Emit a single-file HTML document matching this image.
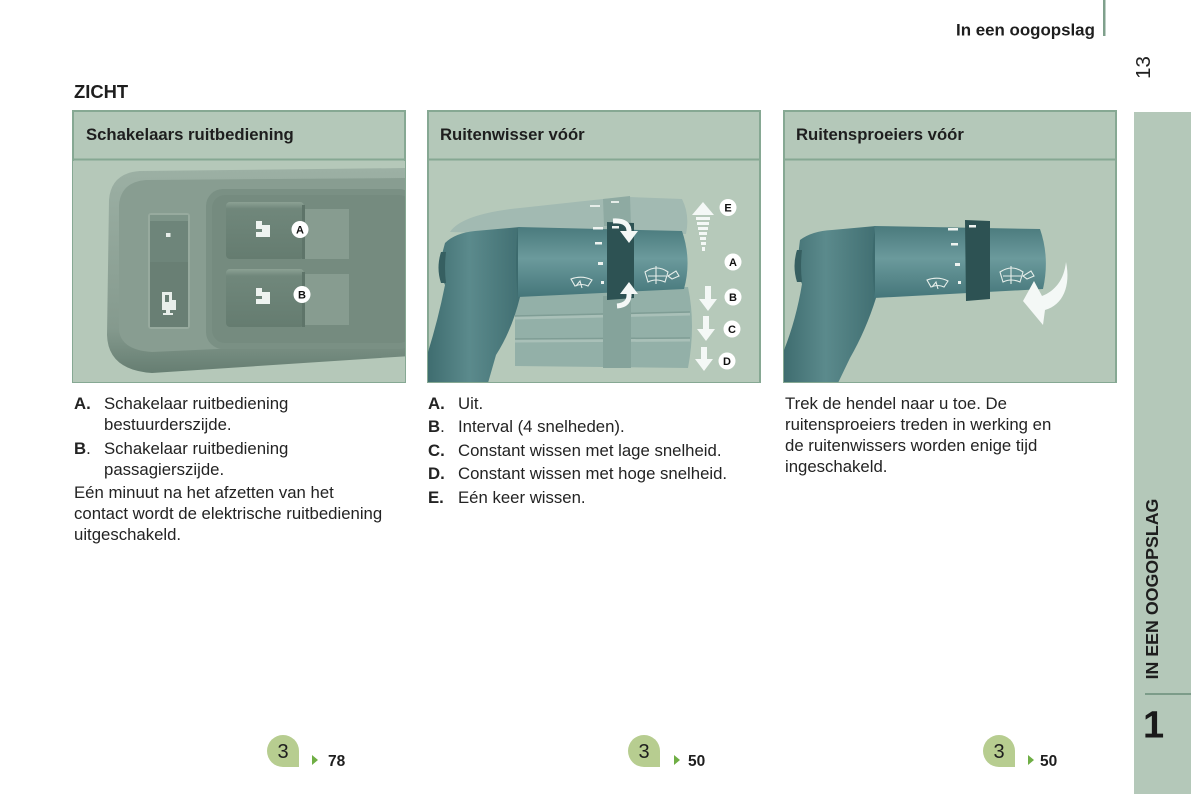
<!DOCTYPE html>
<html><head><meta charset="utf-8">
<style>
html,body{margin:0;padding:0;background:#fff;}
body{width:1191px;height:794px;position:relative;overflow:hidden;font-family:"Liberation Sans",Arial,sans-serif;}
svg{position:absolute;left:0;top:0;}
</style></head>
<body>
<svg width="1191" height="794" viewBox="0 0 1191 794" xmlns="http://www.w3.org/2000/svg" font-family="Liberation Sans, Arial, sans-serif">
<defs>
 <clipPath id="c1"><rect x="73" y="160" width="332" height="222"/></clipPath>
 <clipPath id="c2"><rect x="428" y="160" width="332" height="222"/></clipPath>
 <clipPath id="c3"><rect x="784" y="160" width="332" height="222"/></clipPath>
 <linearGradient id="cyl" x1="0" y1="0" x2="0" y2="1">
  <stop offset="0" stop-color="#4a7a7d"/>
  <stop offset="0.45" stop-color="#6b9a9c"/>
  <stop offset="1" stop-color="#45767a"/>
 </linearGradient>
 <linearGradient id="base" x1="0" y1="0" x2="1" y2="0">
  <stop offset="0" stop-color="#3f6d70"/>
  <stop offset="0.45" stop-color="#5b8a8c"/>
  <stop offset="1" stop-color="#416f72"/>
 </linearGradient>
 <linearGradient id="con" x1="0" y1="0" x2="0" y2="1">
  <stop offset="0" stop-color="#9cb0a4"/>
  <stop offset="0.78" stop-color="#859a8e"/>
  <stop offset="1" stop-color="#667e72"/>
 </linearGradient>
 <linearGradient id="sw" x1="0" y1="0" x2="0" y2="1">
  <stop offset="0" stop-color="#8ca194"/>
  <stop offset="0.12" stop-color="#70877b"/>
  <stop offset="1" stop-color="#657c70"/>
 </linearGradient>
</defs>

<!-- top header -->
<rect x="1103" y="0" width="2.5" height="36" fill="#7fa08c"/>
<text x="956" y="35.5" font-size="16.9" font-weight="bold" fill="#1e1e1e">In een oogopslag</text>
<text transform="translate(1150,67.5) rotate(-90)" text-anchor="middle" font-size="20.5" fill="#222">13</text>

<!-- sidebar -->
<rect x="1134" y="112" width="57" height="682" fill="#b4c8b9"/>
<rect x="1145" y="693" width="46" height="2" fill="#7c9c89"/>
<text transform="translate(1158,589) rotate(-90)" text-anchor="middle" font-size="17.8" font-weight="bold" fill="#1e1e1e">IN EEN OOGOPSLAG</text>
<text x="1143" y="737.5" font-size="38" font-weight="bold" fill="#1a1a1a">1</text>

<!-- ZICHT -->
<text x="74" y="98" font-size="18.4" font-weight="bold" fill="#1e1e1e">ZICHT</text>

<!-- panels -->
<g fill="#b4c8b9" stroke="#86a893" stroke-width="2">
 <rect x="73" y="111" width="332" height="271"/>
 <rect x="428" y="111" width="332" height="271"/>
 <rect x="784" y="111" width="332" height="271"/>
</g>
<g stroke="#86a893" stroke-width="2">
 <line x1="73" y1="159.5" x2="405" y2="159.5"/>
 <line x1="428" y1="159.5" x2="760" y2="159.5"/>
 <line x1="784" y1="159.5" x2="1116" y2="159.5"/>
</g>
<g font-size="16.7" font-weight="bold" fill="#1e1e1e">
 <text x="86" y="140">Schakelaars ruitbediening</text>
 <text x="440" y="140">Ruitenwisser vóór</text>
 <text x="796" y="140">Ruitensproeiers vóór</text>
</g>

<!-- LEFT illustration -->
<g clip-path="url(#c1)">
 <rect x="73" y="161" width="332" height="221" fill="#b5c8b9"/>
 <path d="M410 168 L140 171 Q111 173 109 200 L107 335 Q108 370 152 373 L410 356 Z" fill="url(#con)"/>
 <path d="M410 178 L146 180 Q121 182 119 205 L119 330 Q121 350 152 352 L410 340 Z" fill="#889d91"/>
 <!-- small switch -->
 <rect x="148" y="213" width="42" height="116" rx="3" fill="#97aa9e"/>
 <rect x="150" y="215" width="38" height="112" rx="2" fill="#6e857a"/>
 <rect x="150" y="215" width="38" height="6" fill="#7d9488"/>
 <rect x="150" y="262" width="38" height="65" fill="#697f74"/>
 <rect x="166" y="233" width="4.5" height="4" fill="#e8eeea"/>
 <path d="M162 292 h10 v8 h4 v10 h-6 v3 h3 v2 h-10 v-2 h3 v-3 h-4 z M165 295 v7 h4 v-7 z" fill="#e8eeea"/>
 <!-- recess -->
 <rect x="206" y="189" width="210" height="160" rx="17" fill="#7a9084"/>
 <rect x="212" y="195" width="200" height="148" rx="13" fill="#758b7f"/>
 <!-- switch A -->
 <rect x="305" y="209" width="44" height="50" fill="#879c90"/>
 <rect x="226" y="202" width="78" height="57" rx="4" fill="url(#sw)"/>
 <rect x="302" y="205" width="3" height="54" fill="#5e7469"/>
 <!-- switch B -->
 <rect x="305" y="274" width="44" height="51" fill="#879c90"/>
 <rect x="226" y="269" width="78" height="58" rx="4" fill="url(#sw)"/>
 <rect x="302" y="272" width="3" height="55" fill="#5e7469"/>
 <!-- icons -->
 <path d="M256 221 h6 v4 h8 v12 h-14 z" fill="#eef3f0"/>
 <rect x="255" y="229" width="7" height="3" fill="#6e8579"/>
 <path d="M256 288 h6 v4 h8 v12 h-14 z" fill="#eef3f0"/>
 <rect x="255" y="296" width="7" height="3" fill="#6e8579"/>
 <!-- labels -->
 <circle cx="300" cy="229.5" r="8.5" fill="#fff"/>
 <text x="300" y="233.5" font-size="11" font-weight="bold" text-anchor="middle" fill="#111">A</text>
 <circle cx="302" cy="294.5" r="8.5" fill="#fff"/>
 <text x="302" y="298.5" font-size="11" font-weight="bold" text-anchor="middle" fill="#111">B</text>
</g>

<!-- MIDDLE illustration -->
<g clip-path="url(#c2)">
 <rect x="429" y="161" width="330" height="221" fill="#b6c9ba"/>
 <!-- ghost top -->
 <path d="M450 232 Q462 214 520 208 L603 199 L630 197 L682 199 Q690 215 686 234 L518 234 Z" fill="#a2bab2"/>
 <path d="M603 199 L630 196 L631 226 L604 226 Z" fill="#8eaaa2"/>
 <rect x="590" y="205" width="10" height="2" fill="#e5ece8"/>
 <rect x="611" y="201" width="8" height="2" fill="#e5ece8"/>
 <!-- ghost bottom bands -->
 <path d="M515 293 L688 287 Q696 325 688 368 L515 366 Z" fill="#93b0a8"/>
 <path d="M515 318 L690 314 M515 341 L690 340" stroke="#a9c0b8" stroke-width="3"/>
 <path d="M515 316 L690 312 M515 339 L690 338" stroke="#7f9d95" stroke-width="1.5"/>
 <rect x="603" y="296" width="28" height="72" fill="#85a39b"/>
 <!-- base -->
 <path d="M445 243 Q455 233 475 231 L520 227 L520 297 Q512 330 496 355 L488 383 L428 383 L428 352 Q438 320 445 285 Q438 272 441 258 Z" fill="url(#base)"/>
 <path d="M441 252 Q436 268 441 283 L446 283 Q444 268 446 252 Z" fill="#365f61"/>
 <!-- cylinder -->
 <path d="M518 227 L682 231 Q692 260 684 289 L518 297 Z" fill="url(#cyl)"/>
 <path d="M518 227 L518 297 Q514 262 518 227 Z" fill="#3c6a6d"/>
 <!-- ring -->
 <path d="M607 222 L634 223 L634 298 L607 300 Z" fill="#2d5253"/>
 <!-- ticks -->
 <g fill="#eef3f0">
  <rect x="593" y="227" width="10" height="2.5"/>
  <rect x="595" y="242" width="7" height="2.5"/>
  <rect x="598" y="262" width="5" height="3"/>
  <rect x="601" y="281" width="3" height="3"/>
  <rect x="612" y="226" width="7" height="2.5"/>
 </g>
 <!-- wiper icons -->
 <g fill="none" stroke="#e6eeea" stroke-width="1.1">
  <path d="M571 279 Q582 275 592 280 L588 286 Q582 283 575 286 Z"/>
  <path d="M576 286 L580 281 L582 288"/>
  <path d="M645 272 Q657 264 668 272 L665 282 Q656 278 648 282 Z"/>
  <path d="M656 266 L656 284 M648 276 L666 276"/>
  <path d="M668 276 L676 271 L679 276 L672 279 Z"/>
 </g>
 <!-- ring arrows -->
 <path d="M613 221 Q630 220 629 233" fill="none" stroke="#f4f8f6" stroke-width="5"/>
 <path d="M620 231 L638 231 L629 243 Z" fill="#f4f8f6"/>
 <path d="M620 294 L638 294 L629 282 Z" fill="#f4f8f6"/>
 <path d="M629 293 Q630 305 617 306" fill="none" stroke="#f4f8f6" stroke-width="5"/>
 <!-- E arrow -->
 <path d="M692 215 L714 215 L703 202 Z" fill="#f4f8f6"/>
 <g fill="#f4f8f6">
  <rect x="696" y="217" width="14" height="3"/>
  <rect x="697" y="222" width="12" height="3"/>
  <rect x="698" y="227" width="10" height="3"/>
  <rect x="699" y="232" width="8" height="3"/>
  <rect x="700" y="237" width="6" height="3"/>
  <rect x="701" y="242" width="5" height="3"/>
  <rect x="702" y="247" width="3" height="4"/>
 </g>
 <!-- B C D arrows -->
 <g fill="#f4f8f6">
  <path d="M705 286 L711 286 L711 299 L717 299 L708 311 L699 299 L705 299 Z"/>
  <path d="M703 316 L709 316 L709 329 L715 329 L706 341 L697 329 L703 329 Z"/>
  <path d="M701 347 L707 347 L707 359 L713 359 L704 371 L695 359 L701 359 Z"/>
 </g>
 <!-- labels -->
 <g fill="#fff">
  <circle cx="728" cy="207.5" r="8.5"/>
  <circle cx="733" cy="262" r="8.5"/>
  <circle cx="733" cy="297" r="8.5"/>
  <circle cx="732" cy="329" r="8.5"/>
  <circle cx="727" cy="361" r="8.5"/>
 </g>
 <g font-size="11" font-weight="bold" text-anchor="middle" fill="#111">
  <text x="728" y="211.5">E</text>
  <text x="733" y="266">A</text>
  <text x="733" y="301">B</text>
  <text x="732" y="333">C</text>
  <text x="727" y="365">D</text>
 </g>
</g>

<!-- RIGHT illustration -->
<g clip-path="url(#c3)">
 <rect x="785" y="161" width="330" height="221" fill="#b5c8b9"/>
 <!-- base -->
 <path d="M800 240 Q812 231 832 230 L876 226 L876 298 Q866 330 850 358 L838 383 L784 383 L784 350 Q796 320 802 284 Q795 270 798 256 Z" fill="url(#base)"/>
 <path d="M797 250 Q792 266 797 282 L802 282 Q800 266 802 250 Z" fill="#365f61"/>
 <!-- cylinder -->
 <path d="M874 226 L1040 229 Q1050 258 1043 289 L874 298 Z" fill="url(#cyl)"/>
 <path d="M875 226 L875 298 Q870 262 875 226 Z" fill="#3c6a6d"/>
 <!-- ring -->
 <path d="M965 220 L990 221 L990 299 L966 301 Z" fill="#2d5253"/>
 <g fill="#eef3f0">
  <rect x="948" y="228" width="10" height="2.5"/>
  <rect x="951" y="243" width="7" height="2.5"/>
  <rect x="955" y="263" width="5" height="3"/>
  <rect x="958" y="281" width="3" height="3"/>
  <rect x="969" y="225" width="7" height="2.5"/>
 </g>
 <g fill="none" stroke="#e6eeea" stroke-width="1.1">
  <path d="M927 280 Q938 276 948 281 L944 287 Q938 284 931 287 Z"/>
  <path d="M932 287 L936 282 L938 289"/>
  <path d="M1000 272 Q1012 264 1023 272 L1020 282 Q1011 278 1003 282 Z"/>
  <path d="M1011 266 L1011 284 M1003 276 L1021 276"/>
  <path d="M1023 276 L1031 271 L1034 276 L1027 279 Z"/>
 </g>
 <!-- curved arrow -->
 <path d="M1066 262 C1071 286 1063 305 1045 310 L1043 325 L1023 301 L1034 281 L1042 296 C1055 291 1064 280 1066 262 Z" fill="#f4f8f6"/>
</g>

<!-- body text -->
<g font-size="16.75" fill="#232323">
 <text x="74" y="409"><tspan font-weight="bold">A.</tspan></text>
 <text x="104" y="409">Schakelaar ruitbediening</text>
 <text x="104" y="430">bestuurderszijde.</text>
 <text x="74" y="454"><tspan font-weight="bold">B</tspan>.</text>
 <text x="104" y="454">Schakelaar ruitbediening</text>
 <text x="104" y="475">passagierszijde.</text>
 <text x="74" y="498">Eén minuut na het afzetten van het</text>
 <text x="74" y="519">contact wordt de elektrische ruitbediening</text>
 <text x="74" y="540">uitgeschakeld.</text>

 <text x="428" y="409"><tspan font-weight="bold">A.</tspan></text>
 <text x="458" y="409">Uit.</text>
 <text x="428" y="432"><tspan font-weight="bold">B</tspan>.</text>
 <text x="458" y="432">Interval (4 snelheden).</text>
 <text x="428" y="456"><tspan font-weight="bold">C.</tspan></text>
 <text x="458" y="456">Constant wissen met lage snelheid.</text>
 <text x="428" y="479"><tspan font-weight="bold">D.</tspan></text>
 <text x="458" y="479">Constant wissen met hoge snelheid.</text>
 <text x="428" y="503"><tspan font-weight="bold">E.</tspan></text>
 <text x="458" y="503">Eén keer wissen.</text>

 <text x="785" y="409">Trek de hendel naar u toe. De</text>
 <text x="785" y="430">ruitensproeiers treden in werking en</text>
 <text x="785" y="451">de ruitenwissers worden enige tijd</text>
 <text x="785" y="472">ingeschakeld.</text>
</g>

<!-- bottom badges -->
<g fill="#b7cd90">
 <path d="M267 751 A16 16 0 0 1 299 751 L299 767 L283 767 A16 16 0 0 1 267 751 Z"/>
 <path d="M628 751 A16 16 0 0 1 660 751 L660 767 L644 767 A16 16 0 0 1 628 751 Z"/>
 <path d="M983 751 A16 16 0 0 1 1015 751 L1015 767 L999 767 A16 16 0 0 1 983 751 Z"/>
</g>
<g font-size="20" fill="#1e1e1e" text-anchor="middle">
 <text x="283" y="758">3</text>
 <text x="644" y="758">3</text>
 <text x="999" y="758">3</text>
</g>
<g fill="#6fae45">
 <path d="M312 755 L318 760 L312 765 Z"/>
 <path d="M674 755 L680 760 L674 765 Z"/>
 <path d="M1028 755 L1034 760 L1028 765 Z"/>
</g>
<g font-size="15.5" font-weight="bold" fill="#1e1e1e">
 <text x="328" y="766">78</text>
 <text x="688" y="766">50</text>
 <text x="1040" y="766">50</text>
</g>
</svg>
</body></html>
